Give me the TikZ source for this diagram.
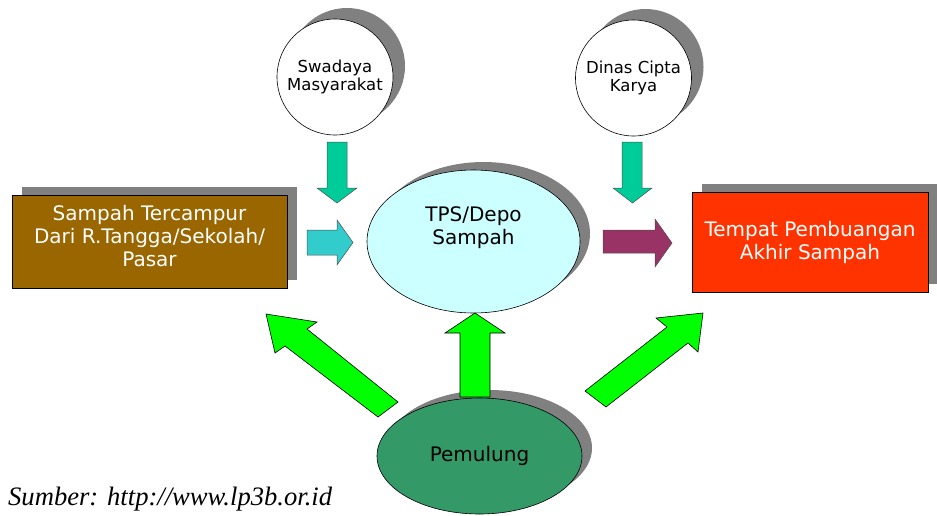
\documentclass[tikz,border=0pt]{standalone}
\usepackage{fontspec}
\setmainfont{DejaVu Sans}
\newfontfamily\srcfont{Liberation Serif}
\usetikzlibrary{shapes.geometric,shadows}

\definecolor{shadegray}{RGB}{128,128,128}
\definecolor{wastebrown}{RGB}{153,102,0}
\definecolor{flowcyan}{RGB}{51,204,204}
\definecolor{feedgreen}{RGB}{0,204,153}
\definecolor{depocyan}{RGB}{204,255,255}
\definecolor{haulpurple}{RGB}{153,51,102}
\definecolor{landfillred}{RGB}{255,51,0}
\definecolor{pickergreen}{RGB}{51,153,102}
\definecolor{limegreen}{RGB}{0,255,0}

\tikzset{
  castshadow/.style={drop shadow={shadow xshift=#1, shadow yshift=8pt, fill=shadegray, opacity=1}},
  castshadow/.default=10pt,
  bigtext/.style={font=\fontsize{20}{23}\selectfont, align=center},
  smalltext/.style={font=\fontsize{16.5}{18.5}\selectfont, align=center},
  blockbox/.style={draw=black, line width=0.6pt, inner sep=0pt, castshadow, text=white, bigtext},
  sourcecircle/.style={circle, draw=black, line width=0.6pt, fill=white, minimum size=116pt, inner sep=0pt,
    drop shadow={shadow xshift=12pt, shadow yshift=11pt, fill=shadegray, opacity=1}, smalltext},
  hub/.style={ellipse, draw=black, line width=0.6pt, inner sep=0pt, castshadow},
  blockarrow/.style={draw=black!70, line width=0.5pt, line join=miter},
  bigarrow/.style={draw=black, line width=0.6pt, fill=limegreen, line join=miter},
}

\begin{document}
\begin{tikzpicture}[x=1pt, y=-1pt]
  \useasboundingbox (0,0) rectangle (937,515);

  % waste source and final disposal boxes
  \node[blockbox, fill=wastebrown, minimum width=275pt, minimum height=93pt] (source) at (149.5,241.5) {};
  \node[white, bigtext] (sourcetext) at (149.5,236) {Sampah Tercampur\\Dari R.Tangga/Sekolah/\\Pasar};
  \node[blockbox, fill=landfillred, minimum width=236pt, minimum height=100pt] (landfill) at (810,242)
    {Tempat Pembuangan\\Akhir Sampah};

  % funding sources
  \node[sourcecircle] (swadaya) at (335,77) {Swadaya\\Masyarakat};
  \node[sourcecircle] (dinas) at (633.5,78) {Dinas Cipta\\Karya};

  % transfer depot
  \node[hub, fill=depocyan, minimum width=213pt, minimum height=143pt] (depo) at (473.5,241.5) {};
  \node[bigtext, text=black] (depotext) at ([yshift=14pt]depo.center) {TPS/Depo\\Sampah};

  % scavengers
  \node[hub, fill=pickergreen, minimum width=205pt, minimum height=116pt, bigtext] (pemulung) at (479.5,456) {Pemulung};

  % feeds from the funding sources into the depot
  \filldraw[blockarrow, fill=feedgreen]
    (327,142) -- (347,142) -- (347,188) -- (357,188) -- (337,203) -- (317,188) -- (327,188) -- cycle;
  \filldraw[blockarrow, fill=feedgreen]
    (622,142) -- (642,142) -- (642,188) -- (652,188) -- (632.5,203) -- (613,188) -- (622,188) -- cycle;

  % waste flow: source -> depot -> landfill
  \filldraw[blockarrow, fill=flowcyan]
    (307,230) -- (337,230) -- (337,220) -- (353,242.5) -- (337,265) -- (337,255) -- (307,255) -- cycle;
  \filldraw[blockarrow, fill=haulpurple]
    (603,230) -- (655,230) -- (655,219) -- (672,243) -- (655,267) -- (655,253) -- (603,253) -- cycle;

  % scavengers pick from every stage
  \filldraw[bigarrow]
    (266,314) -- (317,322) -- (307,329) -- (398,402) -- (378,417) -- (285,346) -- (275,353) -- cycle;
  \filldraw[bigarrow]
    (460,397) -- (460,333) -- (445,333) -- (475,313) -- (505,333) -- (490,333) -- (490,397) -- cycle;
  \filldraw[bigarrow]
    (703,313) -- (698,352) -- (688,343) -- (606,407) -- (585,391) -- (667,327) -- (656,318) -- cycle;

  % reference line
  \node[anchor=base west, inner sep=0pt, font=\srcfont\itshape\fontsize{26.6}{30}\selectfont] (sumber) at (8,505)
    {Sumber: http://www.lp3b.or.id};
\end{tikzpicture}
\end{document}
